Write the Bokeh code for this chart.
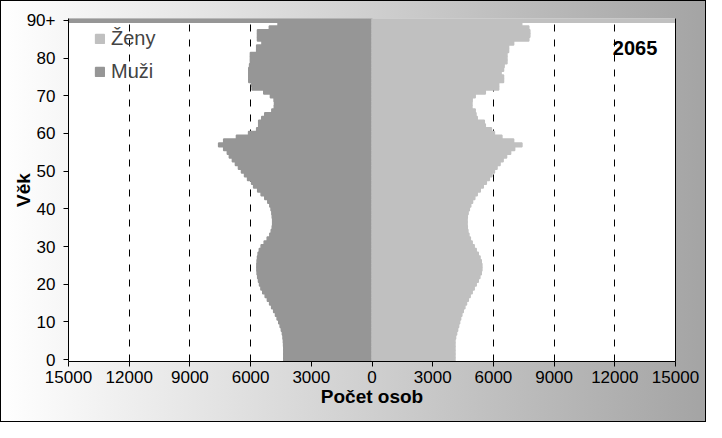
from bokeh.plotting import figure
from bokeh.models import (Range1d, FixedTicker, LinearAxis, Legend, LegendItem,
                          Label, ColumnDataSource)
from bokeh.embed import file_html
from bokeh.resources import INLINE

# ---------------- data ----------------
ages = list(range(91))  # 0 .. 89, 90 = "90+"

men = [4360, 4360, 4360, 4360, 4370, 4380, 4400, 4430, 4480, 4540,
       4610, 4690, 4770, 4860, 4960, 5060, 5170, 5280, 5400, 5490,
       5560, 5610, 5650, 5680, 5690, 5690, 5680, 5660, 5630, 5570,
       5480, 5330, 5180, 5050, 4980, 4930, 4910, 4910, 4930, 4950,
       4990, 5050, 5150, 5300, 5480, 5650, 5850, 5950, 6150, 6300,
       6450, 6600, 6750, 6900, 7050, 7150, 7330, 7580, 7330, 6700,
       6100, 5700, 5600, 5600, 5450, 5300, 4950, 4830, 4820, 4840,
       5020, 5350, 5930, 5950, 6090, 6090, 6090, 6090, 6050, 6010,
       6010, 6010, 5700, 5700, 5440, 5660, 5660, 5660, 5075, 4645,
       16000]

women = [4100, 4100, 4100, 4100, 4100, 4100, 4130, 4180, 4230, 4280,
         4330, 4380, 4440, 4510, 4590, 4670, 4760, 4850, 4950, 5050,
         5150, 5250, 5330, 5400, 5430, 5430, 5400, 5340, 5250, 5150,
         5050, 4950, 4860, 4790, 4740, 4710, 4700, 4700, 4710, 4750,
         4810, 4880, 4970, 5080, 5200, 5350, 5500, 5650, 5800, 5930,
         6050, 6180, 6330, 6480, 6650, 6850, 7050, 7410, 7000, 6420,
         6050, 5900, 5600, 5550, 5200, 5140, 5100, 4940, 4940, 4950,
         5100, 5600, 6260, 6260, 6500, 6500, 6380, 6500, 6530, 6670,
         6670, 6670, 6750, 6750, 7000, 7750, 7800, 7800, 7750, 7400,
         16000]

x_ticks = [-15000, -12000, -9000, -6000, -3000, 0, 3000, 6000, 9000, 12000, 15000]
x_tick_labels = ["15000", "12000", "9000", "6000", "3000", "0",
                 "3000", "6000", "9000", "12000", "15000"]
y_ticks = [0, 10, 20, 30, 40, 50, 60, 70, 80, 90]
y_tick_labels = ["0", "10", "20", "30", "40", "50", "60", "70", "80", "90+"]

series_names = ["Ženy", "Muži"]
year_text = "2065"
x_title = "Počet osob"
y_title = "Věk"

# ---------------- styles ----------------
FONT = "Liberation Sans"
MEN_COLOR = "#969696"
WOMEN_COLOR = "#c0c0c0"

src = ColumnDataSource(dict(
    age=ages,
    men_left=[-v for v in men],
    zero=[0] * len(ages),
    women_right=women,
))

p = figure(width=706, height=422, output_backend="svg", toolbar_location=None,
           x_range=Range1d(-15000, 15000), y_range=Range1d(-0.5, 90.5),
           min_border_left=68, min_border_right=31, min_border_top=18,
           min_border_bottom=61)

p.styles = {
    "background": "linear-gradient(to right, #ffffff 0%, #a4a4a4 100%)",
    "box-shadow": "inset 0 0 0 1px #000000",
}
p.border_fill_color = None
p.background_fill_color = "white"
p.outline_line_color = None

# grid
p.ygrid.grid_line_color = None
p.xgrid.ticker = FixedTicker(ticks=x_ticks)
p.xgrid.grid_line_color = "black"
p.xgrid.grid_line_dash = "7 8"
p.xgrid.grid_line_width = 1

r_men = p.hbar(y="age", left="men_left", right="zero", height=1.0, source=src,
               fill_color=MEN_COLOR, line_color=MEN_COLOR, line_width=1.5)
r_women = p.hbar(y="age", left="zero", right="women_right", height=1.0, source=src,
                 fill_color=WOMEN_COLOR, line_color=WOMEN_COLOR, line_width=1.5)

# x axis
xa = p.xaxis[0]
xa.ticker = FixedTicker(ticks=x_ticks)
xa.major_label_overrides = {t: l for t, l in zip(x_ticks, x_tick_labels)}
xa.axis_line_color = "black"
xa.major_tick_line_color = "black"
xa.major_tick_out = 5
xa.major_tick_in = 0
xa.minor_tick_line_color = None
xa.major_label_text_font = FONT
xa.major_label_text_font_size = "17px"
xa.major_label_text_color = "black"
xa.major_label_standoff = 4
xa.axis_label = x_title
xa.axis_label_text_font = FONT
xa.axis_label_text_font_size = "19px"
xa.axis_label_text_font_style = "bold"
xa.axis_label_text_color = "black"
xa.axis_label_standoff = 0

# y axis
ya = p.yaxis[0]
ya.ticker = FixedTicker(ticks=y_ticks)
ya.major_label_overrides = {t: l for t, l in zip(y_ticks, y_tick_labels)}
ya.axis_line_color = "black"
ya.major_tick_line_color = "black"
ya.major_tick_out = 5
ya.major_tick_in = 0
ya.minor_tick_line_color = None
ya.major_label_text_font = FONT
ya.major_label_text_font_size = "17px"
ya.major_label_text_color = "black"
ya.major_label_standoff = 8
ya.axis_label = y_title
ya.axis_label_text_font = FONT
ya.axis_label_text_font_size = "19px"
ya.axis_label_text_font_style = "bold"
ya.axis_label_text_color = "black"
ya.axis_label_standoff = -10

# right frame line
ra = LinearAxis(axis_line_color="black", major_tick_line_color=None,
                minor_tick_line_color=None, major_label_text_font_size="0px",
                ticker=FixedTicker(ticks=[]))
p.add_layout(ra, "right")

# legend
legend = Legend(items=[LegendItem(label=series_names[0], renderers=[r_women]),
                       LegendItem(label=series_names[1], renderers=[r_men])],
                location=(26, 278), padding=0, margin=0, spacing=10,
                glyph_width=11, glyph_height=11, label_standoff=6,
                label_text_font=FONT, label_text_font_size="20px",
                border_line_color=None, background_fill_color=None)
p.add_layout(legend, "center")

# year label
p.add_layout(Label(x=13000, y=82.7, text=year_text, text_align="center",
                   text_baseline="middle", text_font=FONT, text_font_size="20px",
                   text_font_style="bold", text_color="black"))

open("out.html", "w").write(file_html(p, INLINE))
